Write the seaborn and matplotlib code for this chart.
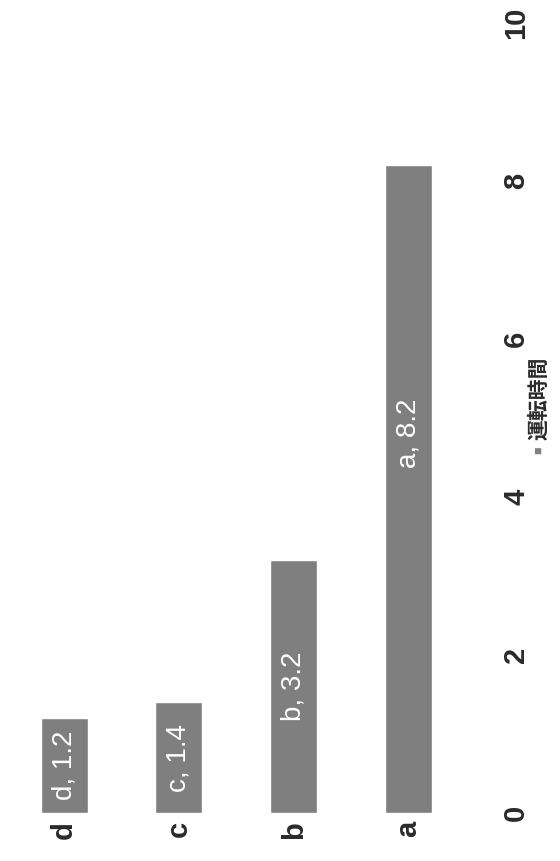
import matplotlib
matplotlib.use("Agg")
import matplotlib.pyplot as plt
import seaborn as sns
import pandas as pd

# data (chart is printed rotated: categories along the bottom, values upward)
categories = ["d", "c", "b", "a"]
values = [1.2, 1.4, 3.2, 8.2]
series_name = "運転時間"
y_ticks = [0, 2, 4, 6, 8, 10]

sns.set_theme(style="white")
plt.rcParams['font.family'] = ['Liberation Sans', 'Noto Sans CJK JP', 'DejaVu Sans']

df = pd.DataFrame({"cat": categories, "val": values})

fig = plt.figure(figsize=(5.6, 8.61), dpi=100)
ax = fig.add_axes([0.012, 0.056, 0.82, 0.917])

bar_color = "#7f7f7f"
sns.barplot(data=df, x="cat", y="val", order=categories, color=bar_color,
            width=0.41, saturation=1, ax=ax)

# labels inside the bars, read bottom to top
label_pos = [v / 2 for v in values]
label_pos[-1] = 4.8  # the long bar's label sits a bit below the middle
for i, (c, v) in enumerate(zip(categories, values)):
    ax.text(i, label_pos[i], f"{c}, {v}", rotation=90, ha="center",
            va="center", color="white", fontsize=20)

ax.set_ylim(0, 10)
ax.set_xlim(-0.5, 3.5)
ax.set_yticks(y_ticks)
ax.set_yticklabels([str(t) for t in y_ticks], rotation=90, va="center",
                   fontsize=21, fontweight="bold", color="#2a2a2a")
ax.yaxis.tick_right()
ax.tick_params(axis="y", length=0, pad=26)
ax.tick_params(axis="x", length=0, pad=6)
ax.set_xticks(range(len(categories)))
ax.set_xticklabels(categories, rotation=90, fontsize=21, fontweight="bold",
                   color="#2a2a2a")
ax.set_xlabel("")
ax.set_ylabel("")
ax.grid(False)
for s in ax.spines.values():
    s.set_visible(False)

# legend, rotated with the rest of the chart
fig.text(0.963, 0.477, "■", rotation=90, ha="center", va="center",
         color=bar_color, fontsize=9)
fig.text(0.963, 0.537, series_name, rotation=90, ha="center", va="center",
         color="#2a2a2a", fontsize=15, fontweight="bold",
         family=['Noto Sans CJK JP', 'DejaVu Sans'])

fig.savefig("out.png", dpi=100)
